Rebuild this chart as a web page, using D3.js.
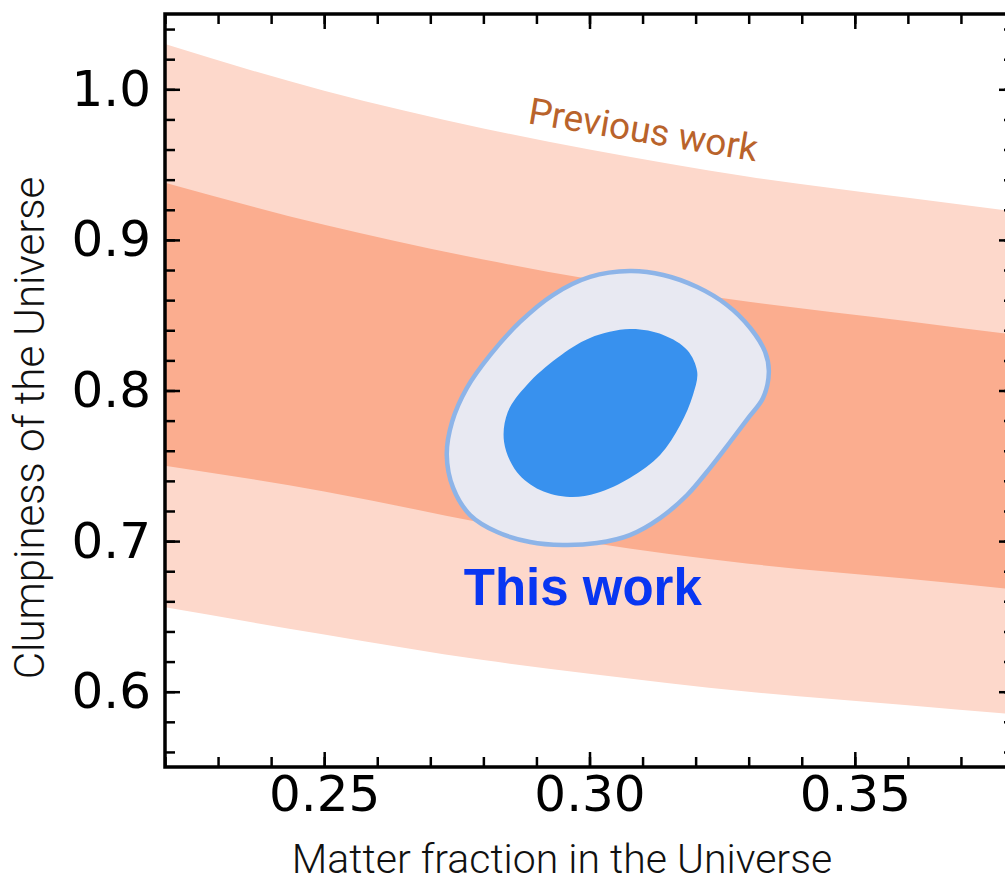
<!DOCTYPE html>
<html lang="en">
<head>
    <meta charset="UTF-8">
    <title>Clumpiness vs matter fraction</title>
    <script src="https://d3js.org/d3.v7.min.js"></script>
    <style>
        body { margin: 0; background: #fff; }
        svg { display: block; }
    </style>
</head>
<body>
    <script>
        const omegaGrid  = [0.22, 0.25, 0.28, 0.30, 0.33, 0.36, 0.38];
        const outerUpper = [1.030, 0.999, 0.974, 0.960, 0.942, 0.928, 0.919];
        const innerUpper = [0.938, 0.910, 0.887, 0.874, 0.859, 0.846, 0.837];
        const innerLower = [0.750, 0.733, 0.712, 0.699, 0.685, 0.675, 0.668];
        const outerLower = [0.656, 0.638, 0.621, 0.612, 0.600, 0.591, 0.585];

        // "this work" contours (matter fraction, clumpiness)
        const contourOuter = [
            [0.3076, 0.8793], [0.3139, 0.8767], [0.3203, 0.8687], [0.3259, 0.8568],
            [0.3303, 0.8415], [0.3331, 0.8256], [0.3338, 0.8123], [0.3327, 0.7950],
            [0.3299, 0.7817], [0.3265, 0.7658], [0.3227, 0.7485], [0.3184, 0.7306],
            [0.3133, 0.7153], [0.3076, 0.7040], [0.3014, 0.6987], [0.2950, 0.6974],
            [0.2888, 0.6994], [0.2826, 0.7060], [0.2775, 0.7173], [0.2743, 0.7353],
            [0.2731, 0.7572], [0.2741, 0.7791], [0.2769, 0.8017], [0.2813, 0.8236],
            [0.2869, 0.8455], [0.2931, 0.8634], [0.3001, 0.8754]
        ];
        const contourInner = [
            [0.3076, 0.8408], [0.3139, 0.8369], [0.3184, 0.8269], [0.3203, 0.8123],
            [0.3195, 0.7970], [0.3171, 0.7771], [0.3133, 0.7572], [0.3076, 0.7419],
            [0.3014, 0.7319], [0.2963, 0.7293], [0.2907, 0.7339], [0.2863, 0.7459],
            [0.2839, 0.7658], [0.2846, 0.7857], [0.2882, 0.8037], [0.2939, 0.8216],
            [0.3001, 0.8349]
        ];

        const xMajor = [0.25, 0.30, 0.35];
        const xMinor = [0.22, 0.23, 0.24, 0.25, 0.26, 0.27, 0.28, 0.29, 0.30, 0.31, 0.32, 0.33, 0.34, 0.35, 0.36, 0.37, 0.38];
        const yMajor = [0.6, 0.7, 0.8, 0.9, 1.0];
        const yMinor = [0.56, 0.58, 0.60, 0.62, 0.64, 0.66, 0.68, 0.70, 0.72, 0.74, 0.76, 0.78, 0.80, 0.82, 0.84, 0.86, 0.88, 0.90, 0.92, 0.94, 0.96, 0.98, 1.00, 1.02, 1.04];

        const W = 1005, H = 884;
        const pL = 165, pT = 14, pR = 1014, pB = 767;

        const x = d3.scaleLinear().domain([0.22, 0.38]).range([pL, pR]);
        const y = d3.scaleLinear().domain([0.55, 1.05]).range([pB, pT]);

        const svg = d3.select("body").append("svg")
            .attr("width", W)
            .attr("height", H);

        svg.append("clipPath").attr("id", "plot")
            .append("rect")
            .attr("x", pL).attr("y", pT)
            .attr("width", pR - pL).attr("height", pB - pT);

        const plot = svg.append("g").attr("clip-path", "url(#plot)");

        const band = (hi, lo) => d3.area()
            .x((d, i) => x(omegaGrid[i]))
            .y0((d, i) => y(lo[i]))
            .y1((d, i) => y(hi[i]))
            .curve(d3.curveMonotoneX)(omegaGrid);

        plot.append("path").attr("d", band(outerUpper, outerLower)).attr("fill", "#fdd8cb");
        plot.append("path").attr("d", band(innerUpper, innerLower)).attr("fill", "#fbad8f");

        const blob = d3.line()
            .x(d => x(d[0]))
            .y(d => y(d[1]))
            .curve(d3.curveCatmullRomClosed.alpha(0.5));

        plot.append("path")
            .attr("d", blob(contourOuter))
            .attr("fill", "#e8e9f2")
            .attr("stroke", "#8db4e8")
            .attr("stroke-width", 4.5);

        plot.append("path")
            .attr("d", blob(contourInner))
            .attr("fill", "#3891ee");

        // labels in the plot
        svg.append("text")
            .attr("transform", `translate(${x(0.2882)},${y(0.9775)}) rotate(9.5)`)
            .attr("font-family", "Roboto, 'Liberation Sans', sans-serif")
            .attr("font-weight", 400)
            .attr("font-size", 37)
            .attr("fill", "#b9632b")
            .text("Previous work");

        svg.append("text")
            .attr("x", x(0.2763))
            .attr("y", y(0.6576))
            .attr("font-family", "'Liberation Sans', Arial, sans-serif")
            .attr("font-weight", "bold")
            .attr("font-size", 51)
            .attr("fill", "#0836f2")
            .text("This work");

        // axes: ticks inward on all four sides
        const tickFont = "'DejaVu Sans', sans-serif";

        const styleAxis = g => {
            g.select(".domain").remove();
            g.selectAll("line").attr("stroke", "#000").attr("stroke-width", 2.5);
        };

        svg.append("g").attr("transform", `translate(0,${pB})`)
            .call(d3.axisBottom(x).tickValues(xMinor).tickSize(-10).tickFormat(""))
            .call(styleAxis);
        svg.append("g").attr("transform", `translate(0,${pB})`)
            .call(d3.axisBottom(x).tickValues(xMajor).tickSize(-15).tickPadding(8).tickFormat(d3.format(".2f")))
            .call(styleAxis)
            .call(g => g.selectAll("text")
                .attr("font-family", tickFont).attr("font-size", 50).attr("fill", "#000"));

        svg.append("g").attr("transform", `translate(0,${pT})`)
            .call(d3.axisTop(x).tickValues(xMinor).tickSize(-10).tickFormat(""))
            .call(styleAxis);
        svg.append("g").attr("transform", `translate(0,${pT})`)
            .call(d3.axisTop(x).tickValues(xMajor).tickSize(-15).tickFormat(""))
            .call(styleAxis);

        svg.append("g").attr("transform", `translate(${pL},0)`)
            .call(d3.axisLeft(y).tickValues(yMinor).tickSize(-10).tickFormat(""))
            .call(styleAxis);
        svg.append("g").attr("transform", `translate(${pL},0)`)
            .call(d3.axisLeft(y).tickValues(yMajor).tickSize(-15).tickPadding(14).tickFormat(d3.format(".1f")))
            .call(styleAxis)
            .call(g => g.selectAll("text")
                .attr("font-family", tickFont).attr("font-size", 50).attr("fill", "#000"));

        svg.append("g").attr("transform", `translate(${pR},0)`)
            .call(d3.axisRight(y).tickValues(yMinor).tickSize(-10).tickFormat(""))
            .call(styleAxis);
        svg.append("g").attr("transform", `translate(${pR},0)`)
            .call(d3.axisRight(y).tickValues(yMajor).tickSize(-15).tickFormat(""))
            .call(styleAxis);

        // frame
        svg.append("rect")
            .attr("x", pL).attr("y", pT)
            .attr("width", pR - pL).attr("height", pB - pT)
            .attr("fill", "none")
            .attr("stroke", "#000")
            .attr("stroke-width", 3.5);

        // axis titles
        svg.append("text")
            .attr("x", 562)
            .attr("y", 873)
            .attr("text-anchor", "middle")
            .attr("font-family", "Roboto, 'Liberation Sans', sans-serif")
            .attr("font-weight", 300)
            .attr("font-size", 41)
            .attr("fill", "#111")
            .text("Matter fraction in the Universe");

        svg.append("text")
            .attr("transform", `translate(44,428) rotate(-90)`)
            .attr("text-anchor", "middle")
            .attr("font-family", "Roboto, 'Liberation Sans', sans-serif")
            .attr("font-weight", 300)
            .attr("font-size", 42)
            .attr("fill", "#111")
            .text("Clumpiness of the Universe");
    </script>
</body>
</html>
